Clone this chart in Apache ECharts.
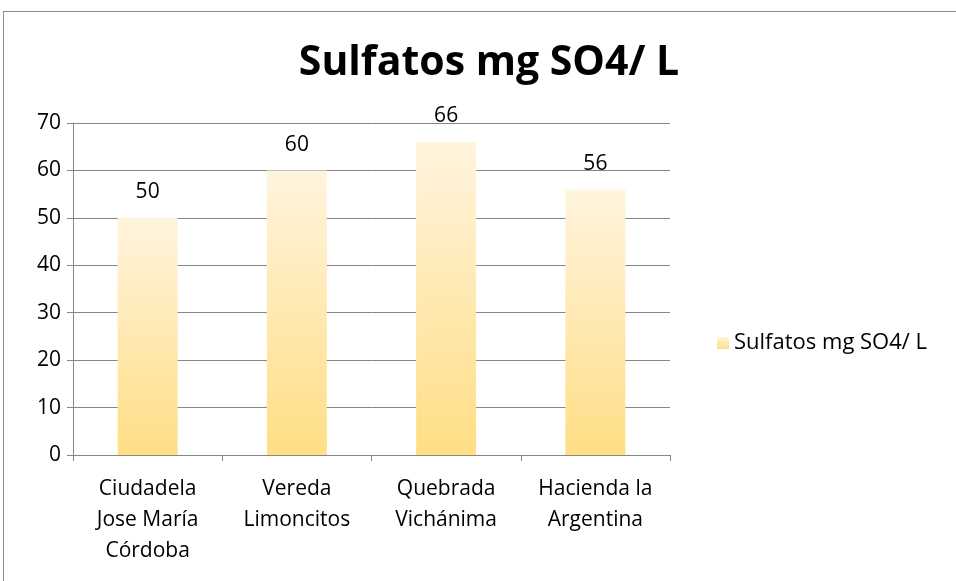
<!DOCTYPE html>
<html>
<head>
<meta charset="utf-8">
<script src="https://cdn.jsdelivr.net/npm/echarts@6/dist/echarts.min.js"></script>
<style>
  html, body { margin: 0; padding: 0; background: #fff; }
  #frame { position: absolute; left: 3px; top: 11px; width: 960px; height: 580px;
           border-left: 1px solid #8c8c8c; border-top: 1px solid #8c8c8c; box-sizing: border-box; }
  #chart { position: absolute; left: 0; top: 0; width: 956px; height: 581px; }
</style>
</head>
<body>
<div id="frame"></div>
<div id="chart"></div>
<script>
// Sulfate concentration per sampling site
const chartTitle = 'Sulfatos mg SO4/ L';
const seriesName = 'Sulfatos mg SO4/ L';
const sites = ['Ciudadela\nJose María\nCórdoba', 'Vereda\nLimoncitos', 'Quebrada\nVichánima', 'Hacienda la\nArgentina'];
const sulfates = [50, 60, 66, 56];
const yTicks = { min: 0, max: 70, interval: 10 };

const fontFamily = '"Open Sans", "Noto Sans", sans-serif';
const barFill = new echarts.graphic.LinearGradient(0, 0, 0, 1, [
  { offset: 0, color: '#fff4de' },
  { offset: 1, color: '#ffde85' }
]);

const chart = echarts.init(document.getElementById('chart'), null, { renderer: 'canvas' });
chart.setOption({
  animation: false,
  backgroundColor: 'transparent',
  title: {
    text: chartTitle,
    left: 484, top: 38, textAlign: 'center',
    textStyle: { fontFamily, fontWeight: 'bold', fontSize: 41, color: '#000' }
  },
  legend: {
    data: [seriesName],
    left: 712, top: 327,
    itemWidth: 12, itemHeight: 12, itemGap: 10,
    icon: 'rect',
    textStyle: { fontFamily, fontSize: 22, color: '#000' }
  },
  grid: { left: 73, top: 123, width: 597, height: 332 },
  xAxis: {
    type: 'category',
    data: sites,
    axisLine: { lineStyle: { color: '#868686', width: 1 } },
    axisTick: { show: true, length: 6, lineStyle: { color: '#868686' } },
    axisLabel: { fontFamily, fontSize: 21, color: '#000', lineHeight: 31, margin: 19 }
  },
  yAxis: {
    type: 'value',
    min: yTicks.min, max: yTicks.max, interval: yTicks.interval,
    axisLine: { show: true, lineStyle: { color: '#868686', width: 1 } },
    axisTick: { show: true, length: 6, lineStyle: { color: '#868686' } },
    splitLine: { lineStyle: { color: '#868686', width: 1 } },
    axisLabel: { fontFamily, fontSize: 21, color: '#000', margin: 12 }
  },
  series: [{
    name: seriesName,
    type: 'bar',
    data: sulfates,
    barWidth: 60,
    itemStyle: { color: barFill },
    label: { show: true, position: 'top', distance: 15, fontFamily, fontSize: 21, color: '#000' }
  }]
});
</script>
</body>
</html>
